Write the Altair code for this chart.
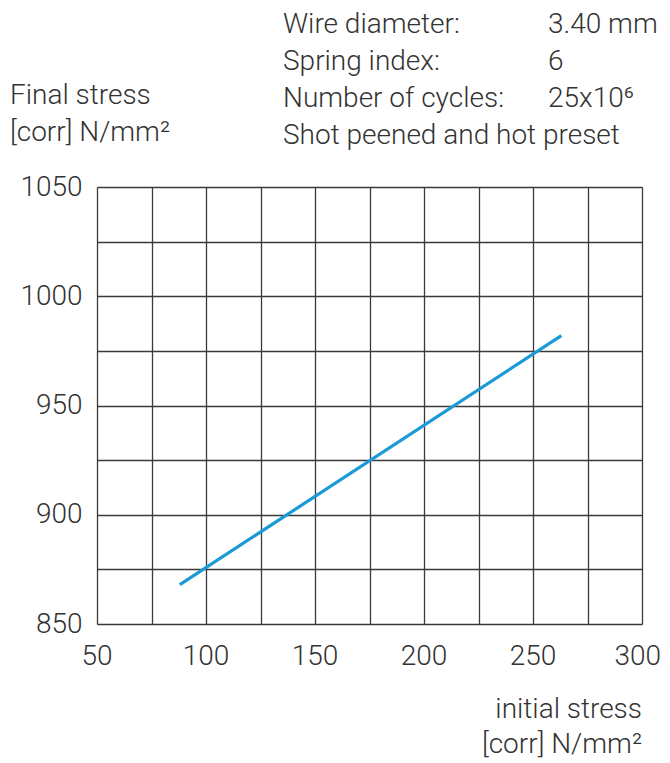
import altair as alt
import pandas as pd

# data
initial_stress = [88, 263]
final_stress = [868, 982]

x_ticks = [50, 75, 100, 125, 150, 175, 200, 225, 250, 275, 300]
x_labels = [50, 100, 150, 200, 250, 300]
y_ticks = [850, 875, 900, 925, 950, 975, 1000, 1025, 1050]

info_labels = ["Wire diameter:", "Spring index:", "Number of cycles:", "Shot peened and hot preset"]
info_values = ["3.40 mm", "6", "25x10⁶", ""]

FONT = "Roboto"
TXT = "#333333"

df = pd.DataFrame({"x": initial_stress, "y": final_stress})
xs = alt.Scale(domain=[50, 300], nice=False)

line = alt.Chart(df).mark_line(color="#1a9ad6", strokeWidth=3.2).encode(
    x=alt.X("x:Q", scale=xs,
            axis=alt.Axis(values=x_ticks, title=None, ticks=False, domain=False,
                          labels=False,
                          grid=True, gridColor="#3a3a3a", gridWidth=1.3, gridOpacity=1)),
    y=alt.Y("y:Q", scale=alt.Scale(domain=[850, 1050], nice=False, zero=False),
            axis=alt.Axis(values=y_ticks, title=None, ticks=False, domain=False,
                          labelExpr="datum.value % 50 == 0 ? datum.value + '' : ''",
                          labelFlush=False, labelOverlap=False,
                          labelFont=FONT, labelFontSize=28, labelFontWeight=300,
                          labelColor=TXT, labelPadding=15,
                          grid=True, gridColor="#3a3a3a", gridWidth=1.3, gridOpacity=1)),
)

# x tick labels as text (the last one nudged so it stays inside the page)
xl = pd.DataFrame({"v": x_labels[:-1]})
xlab = alt.Chart(xl).mark_text(
    align="center", baseline="alphabetic", font=FONT, fontSize=28, fontWeight=300,
    color=TXT).encode(x=alt.X("v:Q", scale=xs), text=alt.Text("v:Q", format="d"),
                      y=alt.value(665 - 187))
xlast = alt.Chart(pd.DataFrame({"v": x_labels[-1:]})).mark_text(
    align="right", baseline="alphabetic", font=FONT, fontSize=28, fontWeight=300,
    color=TXT, dx=19).encode(x=alt.X("v:Q", scale=xs), text=alt.Text("v:Q", format="d"),
                             y=alt.value(665 - 187))

def txt(s, x, y, align="left", size=28):
    return alt.Chart(pd.DataFrame({"t": [s]})).mark_text(
        align=align, baseline="alphabetic", font=FONT, fontSize=size, fontWeight=300,
        color=TXT).encode(text="t:N", x=alt.value(x), y=alt.value(y))

# positions relative to the plot area's top-left corner (page x 97, y 187)
layers = [line, xlab, xlast]
info_y = [33 - 187, 70 - 187, 107 - 187, 144 - 187]
for lab, val, yy in zip(info_labels, info_values, info_y):
    layers.append(txt(lab, 283 - 97, yy))
    if val:
        layers.append(txt(val, 548 - 97, yy))
layers.append(txt("Final stress", 10 - 97, 104 - 187))
layers.append(txt("[corr] N/mm²", 10 - 97, 141 - 187))
layers.append(txt("initial stress", 545, 718 - 187, align="right"))
layers.append(txt("[corr] N/mm²", 545, 753 - 187, align="right"))

chart = alt.layer(*layers).properties(
    width=545, height=437,
    autosize=alt.AutoSizeParams(type="none"),
    padding={"left": 89, "top": 179, "right": 20, "bottom": 136},
).configure_view(stroke="#3a3a3a", strokeWidth=1.5).configure(background="white")

chart.save("out.html", embed_options={"renderer": "svg", "actions": False})
